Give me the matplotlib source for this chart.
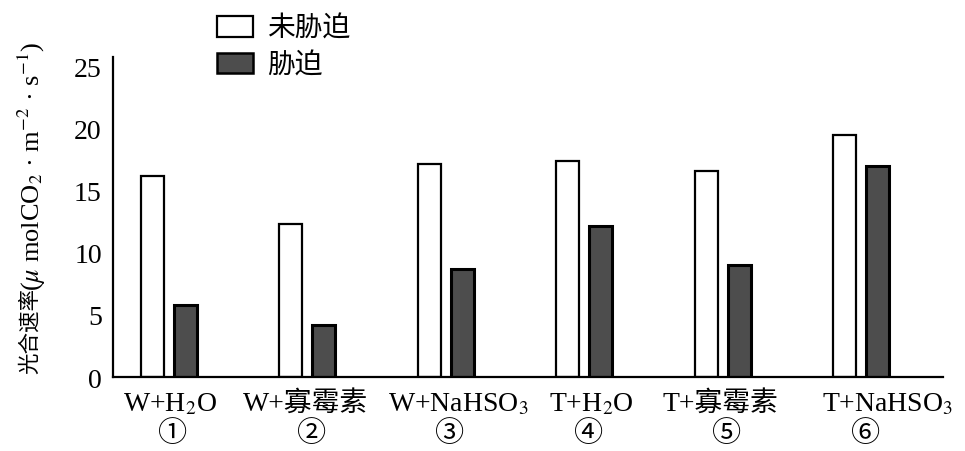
import matplotlib
matplotlib.use("Agg")
import matplotlib.pyplot as plt
from matplotlib.patches import Patch
from matplotlib.transforms import blended_transform_factory
import numpy as np

categories = ["W+H$_2$O", "W+寡霉素", "W+NaHSO$_3$", "T+H$_2$O", "T+寡霉素", "T+NaHSO$_3$"]
numbers = ["①", "②", "③", "④", "⑤", "⑥"]
unstressed = [16.2, 12.3, 17.2, 17.4, 16.6, 19.5]
stressed = [5.8, 4.2, 8.7, 12.2, 9.0, 17.0]
series_names = ["未胁迫", "胁迫"]
yticks = [0, 5, 10, 15, 20, 25]

plt.rcParams['font.family'] = ['Liberation Serif', 'Noto Sans CJK SC', 'DejaVu Sans']
plt.rcParams['mathtext.fontset'] = 'stix'

fig = plt.figure(figsize=(9.65, 4.52), dpi=100)
ax = fig.add_axes([0.117, 0.1637, 0.860, 0.708])

x = np.arange(len(categories))
w = 0.166
off = 0.119
ax.bar(x - off, unstressed, width=w, color='white', edgecolor='black', linewidth=1.6)
ax.bar(x + off, stressed, width=w, color='#4d4d4d', edgecolor='black', linewidth=2.2)

ax.set_xlim(-0.402, 5.587)
ax.set_ylim(0, 25.8)
ax.set_yticks(yticks)
ax.set_yticklabels([str(t) for t in yticks], fontsize=20)
ax.tick_params(axis='y', length=0, pad=8)
ax.set_xticks([])
for s in ['top', 'right']:
    ax.spines[s].set_visible(False)
for s in ['left', 'bottom']:
    ax.spines[s].set_linewidth(1.6)

# category labels (small horizontal shifts as in the reference layout)
label_shift = [0.01, -0.01, 0.09, 0.05, -0.02, 0.19]
trans = blended_transform_factory(ax.transData, ax.transAxes)
for xi, lab, dx in zip(x, categories, label_shift):
    ax.text(xi + dx, -0.082, lab, transform=trans, ha='center', va='center',
            fontsize=20)
for xi, n in zip(x, numbers):
    ax.text(xi + 0.03, -0.175, n, transform=trans, ha='center', va='center',
            fontsize=21, family=['Noto Sans CJK SC', 'DejaVu Sans'])

# y-axis label: Chinese part and unit part
fig.text(0.031, (452 - 374) / 452, '光合速率', rotation=90, ha='center', va='bottom',
         fontsize=15.5, family=['Noto Sans CJK SC'])
fig.text(0.033, (452 - 291) / 452, r'($\mu$ molCO$_2$ · m$^{-2}$ · s$^{-1}$)', rotation=90,
         ha='center', va='bottom', fontsize=19)

handles = [Patch(facecolor='white', edgecolor='black', linewidth=1.6),
           Patch(facecolor='#4d4d4d', edgecolor='black', linewidth=1.8)]
leg = fig.legend(handles, series_names, loc='upper left', bbox_to_anchor=(0.205, 1.012),
                 frameon=False, handlelength=1.3, handleheight=0.75,
                 handletextpad=0.5, labelspacing=0.25, borderpad=0.2,
                 prop={'family': ['Noto Sans CJK SC'], 'size': 20})

fig.savefig('out.png', dpi=100)
